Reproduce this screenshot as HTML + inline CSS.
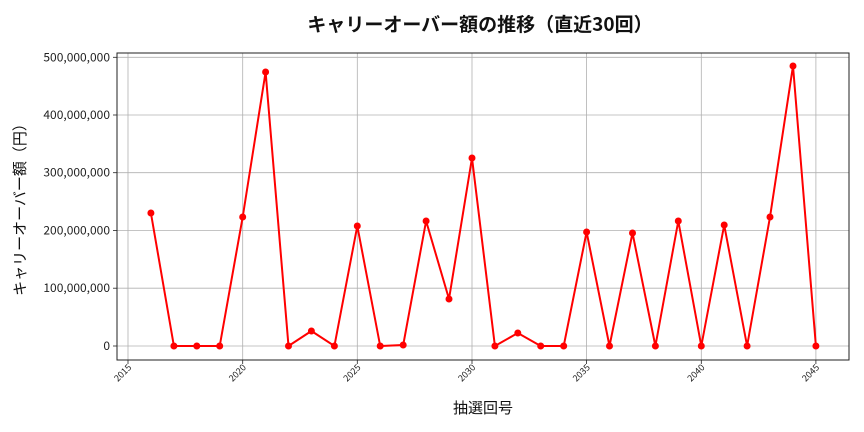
<!DOCTYPE html>
<html><head><meta charset="utf-8"><style>
body{margin:0;background:#fff;}
svg{display:block;font-family:"Noto Sans CJK JP","Liberation Sans",sans-serif;}
</style></head><body>
<svg width="864" height="432" viewBox="0 0 864 432">
<rect width="864" height="432" fill="#fff"/>
<text x="480" y="31" font-size="19" font-weight="bold" text-anchor="middle" fill="#111">キャリーオーバー額の推移（直近30回）</text>
<g stroke="#b0b0b0" stroke-width="0.8">
<line x1="128" y1="53" x2="128" y2="360"/><line x1="242.7" y1="53" x2="242.7" y2="360"/><line x1="357.3" y1="53" x2="357.3" y2="360"/><line x1="472" y1="53" x2="472" y2="360"/><line x1="586.6" y1="53" x2="586.6" y2="360"/><line x1="701.3" y1="53" x2="701.3" y2="360"/><line x1="815.9" y1="53" x2="815.9" y2="360"/>
<line x1="117" y1="346" x2="849" y2="346"/><line x1="117" y1="288.2" x2="849" y2="288.2"/><line x1="117" y1="230.5" x2="849" y2="230.5"/><line x1="117" y1="172.7" x2="849" y2="172.7"/><line x1="117" y1="115" x2="849" y2="115"/><line x1="117" y1="57.3" x2="849" y2="57.3"/>
</g>
<rect x="117" y="53" width="732" height="307" fill="none" stroke="#222" stroke-width="1"/>
<g stroke="#222" stroke-width="0.8">
<line x1="128" y1="360" x2="128" y2="364"/><line x1="242.7" y1="360" x2="242.7" y2="364"/><line x1="357.3" y1="360" x2="357.3" y2="364"/><line x1="472" y1="360" x2="472" y2="364"/><line x1="586.6" y1="360" x2="586.6" y2="364"/><line x1="701.3" y1="360" x2="701.3" y2="364"/><line x1="815.9" y1="360" x2="815.9" y2="364"/>
<line x1="113" y1="346" x2="117" y2="346"/><line x1="113" y1="288.2" x2="117" y2="288.2"/><line x1="113" y1="230.5" x2="117" y2="230.5"/><line x1="113" y1="172.7" x2="117" y2="172.7"/><line x1="113" y1="115" x2="117" y2="115"/><line x1="113" y1="57.3" x2="117" y2="57.3"/>
</g>
<g font-size="12" text-anchor="end" fill="#222">
<text x="110" y="350">0</text><text x="110" y="292.2">100,000,000</text><text x="110" y="234.5">200,000,000</text><text x="110" y="176.7">300,000,000</text><text x="110" y="119">400,000,000</text><text x="110" y="61.3">500,000,000</text>
</g>
<g font-size="9" text-anchor="end" fill="#222">
<text transform="translate(132,368) rotate(-45)">2015</text>
<text transform="translate(246.7,368) rotate(-45)">2020</text>
<text transform="translate(361.3,368) rotate(-45)">2025</text>
<text transform="translate(476,368) rotate(-45)">2030</text>
<text transform="translate(590.6,368) rotate(-45)">2035</text>
<text transform="translate(705.3,368) rotate(-45)">2040</text>
<text transform="translate(819.9,368) rotate(-45)">2045</text>
</g>
<text x="483" y="413" font-size="15" text-anchor="middle" fill="#111">抽選回号</text>
<text transform="translate(25,206) rotate(-90)" font-size="15" text-anchor="middle" fill="#111">キャリーオーバー額（円）</text>
<polyline fill="none" stroke="#f00" stroke-width="2" points="150.9,213 173.9,346 196.8,346 219.7,346 242.7,217 265.6,72 288.5,346 311.4,331 334.4,346 357.3,226 380.2,346 403.2,345 426.1,221 449,299 472,158 494.9,346 517.8,333 540.7,346 563.7,346 586.6,232 609.5,346 632.5,233 655.4,346 678.3,221 701.3,346 724.2,225 747.1,346 770,217 793,66 815.9,346"/>
<g fill="#f00">
<circle cx="150.9" cy="213" r="3.5"/><circle cx="173.9" cy="346" r="3.5"/><circle cx="196.8" cy="346" r="3.5"/><circle cx="219.7" cy="346" r="3.5"/><circle cx="242.7" cy="217" r="3.5"/><circle cx="265.6" cy="72" r="3.5"/><circle cx="288.5" cy="346" r="3.5"/><circle cx="311.4" cy="331" r="3.5"/><circle cx="334.4" cy="346" r="3.5"/><circle cx="357.3" cy="226" r="3.5"/><circle cx="380.2" cy="346" r="3.5"/><circle cx="403.2" cy="345" r="3.5"/><circle cx="426.1" cy="221" r="3.5"/><circle cx="449" cy="299" r="3.5"/><circle cx="472" cy="158" r="3.5"/><circle cx="494.9" cy="346" r="3.5"/><circle cx="517.8" cy="333" r="3.5"/><circle cx="540.7" cy="346" r="3.5"/><circle cx="563.7" cy="346" r="3.5"/><circle cx="586.6" cy="232" r="3.5"/><circle cx="609.5" cy="346" r="3.5"/><circle cx="632.5" cy="233" r="3.5"/><circle cx="655.4" cy="346" r="3.5"/><circle cx="678.3" cy="221" r="3.5"/><circle cx="701.3" cy="346" r="3.5"/><circle cx="724.2" cy="225" r="3.5"/><circle cx="747.1" cy="346" r="3.5"/><circle cx="770" cy="217" r="3.5"/><circle cx="793" cy="66" r="3.5"/><circle cx="815.9" cy="346" r="3.5"/>
</g>
</svg>
</body></html>
